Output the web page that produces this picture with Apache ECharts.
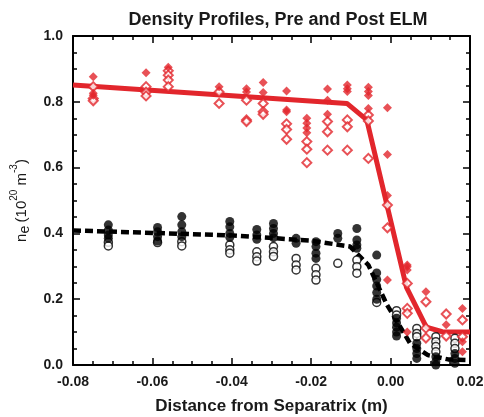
<!DOCTYPE html>
<html><head><meta charset="utf-8">
<script src="https://cdn.jsdelivr.net/npm/echarts@6/dist/echarts.min.js"></script>
<style>html,body{margin:0;padding:0;background:#fff}#c{width:484px;height:417px}</style>
</head><body><div id="c"></div>
<script>
// Pre-ELM fit (solid red) and post-ELM fit (dashed black)
var redFit = [[-0.08,0.851],[-0.011,0.795],[-0.006,0.745],[0.004,0.236],[0.009,0.115],[0.013,0.101],[0.02,0.100]];
var blackFit = [[-0.08,0.409],[-0.04,0.394],[-0.02,0.378],[-0.0102,0.36],[-0.0056,0.304],[-0.001,0.185],[0.0049,0.066],[0.0094,0.03],[0.0145,0.017],[0.02,0.015]];

var redFilled = [
 [-0.0749,0.876],[-0.0749,0.826],[-0.0749,0.82],
 [-0.0616,0.888],[-0.056,0.905],[-0.0432,0.846],
 [-0.0363,0.84],[-0.0363,0.83],
 [-0.0321,0.859],[-0.0321,0.828],
 [-0.0262,0.833],[-0.0262,0.775],[-0.0262,0.77],
 [-0.0211,0.75],[-0.0211,0.735],[-0.0211,0.72],[-0.0211,0.706],
 [-0.0159,0.839],[-0.0159,0.805],[-0.0159,0.762],
 [-0.0109,0.851],[-0.0109,0.84],[-0.0109,0.831],
 [-0.0056,0.844],[-0.0056,0.831],[-0.0056,0.819],[-0.0056,0.78],
 [-0.0008,0.782],[-0.0008,0.64],[-0.0008,0.515],[-0.0008,0.258],
 [0.0042,0.304],[0.0042,0.299],[0.0042,0.289],[0.0042,0.10],
 [0.0089,0.223],[0.0140,0.122],
 [0.0181,0.172],[0.0181,0.071],[0.0181,0.04]
];
var redOpen = [
 [-0.0749,0.846],[-0.0749,0.81],[-0.0749,0.803],
 [-0.0616,0.846],[-0.0616,0.829],[-0.0616,0.818],
 [-0.056,0.894],[-0.056,0.881],[-0.056,0.866],[-0.056,0.846],
 [-0.0432,0.83],[-0.0432,0.795],
 [-0.0363,0.805],[-0.0363,0.745],[-0.0363,0.74],
 [-0.0321,0.795],[-0.0321,0.77],[-0.0321,0.762],
 [-0.0262,0.733],[-0.0262,0.716],[-0.0262,0.686],
 [-0.0211,0.679],[-0.0211,0.656],[-0.0211,0.615],
 [-0.0159,0.74],[-0.0159,0.709],[-0.0159,0.653],
 [-0.0109,0.745],[-0.0109,0.724],[-0.0109,0.653],
 [-0.0056,0.76],[-0.0056,0.742],[-0.0056,0.628],
 [-0.0008,0.486],[-0.0008,0.417],
 [0.0042,0.248],[0.0042,0.172],[0.0042,0.157],
 [0.0089,0.192],[0.0089,0.112],[0.0089,0.082],
 [0.0140,0.155],[0.0140,0.088],
 [0.0181,0.137],[0.0181,0.086]
];
var blackFilled = [
 [-0.0711,0.426],[-0.0711,0.41],[-0.0711,0.395],[-0.0711,0.385],
 [-0.0587,0.418],[-0.0587,0.405],[-0.0587,0.39],[-0.0587,0.377],
 [-0.0526,0.451],[-0.0526,0.426],[-0.0526,0.405],[-0.0526,0.39],
 [-0.0405,0.436],[-0.0405,0.42],[-0.0405,0.40],[-0.0405,0.388],
 [-0.0337,0.412],[-0.0337,0.395],[-0.0337,0.382],
 [-0.0295,0.43],[-0.0295,0.415],[-0.0295,0.40],[-0.0295,0.387],
 [-0.0238,0.385],[-0.0238,0.37],
 [-0.0188,0.375],[-0.0188,0.36],[-0.0188,0.34],[-0.0188,0.324],
 [-0.0133,0.40],[-0.0133,0.385],
 [-0.0085,0.415],[-0.0085,0.38],[-0.0085,0.365],[-0.0085,0.355],
 [-0.0035,0.334],[-0.0035,0.28],[-0.0035,0.26],[-0.0035,0.24],[-0.0035,0.22],[-0.0035,0.20],
 [0.0015,0.142],[0.0015,0.128],[0.0015,0.115],[0.0015,0.10],[0.0015,0.088],
 [0.0066,0.066],[0.0066,0.05],[0.0066,0.035],[0.0066,0.02],
 [0.0114,0.025],[0.0114,0.01],[0.0114,0.0],
 [0.0162,0.035],[0.0162,0.02],[0.0162,0.005]
];
var blackOpen = [
 [-0.0711,0.373],[-0.0711,0.362],
 [-0.0587,0.372],
 [-0.0526,0.375],[-0.0526,0.362],
 [-0.0405,0.365],[-0.0405,0.35],[-0.0405,0.34],
 [-0.0337,0.344],[-0.0337,0.329],[-0.0337,0.316],
 [-0.0295,0.36],[-0.0295,0.344],[-0.0295,0.33],
 [-0.0238,0.324],[-0.0238,0.304],[-0.0238,0.289],
 [-0.0188,0.294],[-0.0188,0.274],[-0.0188,0.258],
 [-0.0133,0.309],
 [-0.0085,0.319],[-0.0085,0.299],[-0.0085,0.279],
 [-0.0035,0.19],
 [0.0015,0.165],[0.0015,0.152],
 [0.0066,0.111],[0.0066,0.096],[0.0066,0.086],
 [0.0114,0.086],[0.0114,0.071],[0.0114,0.056],[0.0114,0.04],
 [0.0162,0.081],[0.0162,0.066],[0.0162,0.05]
];

var RED = '#e2262c';
var TXT = '#1a1a1a';
var FONT = 'Liberation Sans, Arial, sans-serif';

function frameAxis(extra){
  var a = {
    axisLine:{show:true,onZero:false,lineStyle:{color:'#000',width:2}},
    axisTick:{show:true,inside:true,length:7,lineStyle:{color:'#000',width:1.5}},
    minorTick:{show:true,splitNumber:4,length:4,lineStyle:{color:'#000',width:1.5}},
    splitLine:{show:false}, minorSplitLine:{show:false}
  };
  for (var k in extra) a[k]=extra[k];
  return a;
}

var chart = echarts.init(document.getElementById('c'), null, {renderer:'canvas'});
chart.setOption({
  animation:false,
  backgroundColor:'#fff',
  title:{text:'Density Profiles, Pre and Post ELM',left:273,textAlign:'center',top:6,
    textStyle:{fontFamily:'Liberation Sans Narrow, Arial Narrow, sans-serif',fontWeight:'bold',fontSize:18,color:TXT}},
  grid:{left:73,right:14,top:36,bottom:52,containLabel:false,outerBoundsMode:'none'},
  xAxis:[
    frameAxis({type:'value',min:-0.08,max:0.02,interval:0.02,position:'bottom',
      name:'Distance from Separatrix (m)',nameLocation:'middle',nameGap:33,
      nameTextStyle:{fontFamily:FONT,fontWeight:'bold',fontSize:17,color:TXT},
      axisLabel:{show:true,margin:10,fontFamily:FONT,fontWeight:'bold',fontSize:14,color:TXT,
        formatter:function(v){return v.toFixed(2);}}}),
    frameAxis({type:'value',min:-0.08,max:0.02,interval:0.02,position:'top',axisLabel:{show:false}})
  ],
  yAxis:[
    frameAxis({type:'value',min:0,max:1,interval:0.2,position:'left',
      name:'{n|n}{e|e} {n|(10}{p|20}{n| m}{p|-3}{n|)}',nameLocation:'middle',nameGap:33,nameRotate:90,
      nameTextStyle:{rich:{
        n:{fontFamily:FONT,fontSize:15,color:TXT,lineHeight:20,verticalAlign:'bottom'},
        e:{fontFamily:FONT,fontSize:14,color:TXT,lineHeight:20,verticalAlign:'bottom',padding:[0,0,-3,0]},
        p:{fontFamily:FONT,fontSize:10,color:TXT,lineHeight:20,verticalAlign:'top'}
      }},
      axisLabel:{show:true,margin:10,fontFamily:FONT,fontWeight:'bold',fontSize:14,color:TXT,
        formatter:function(v){return v.toFixed(1);}}}),
    frameAxis({type:'value',min:0,max:1,interval:0.2,position:'right',axisLabel:{show:false}})
  ],
  series:[
    {type:'line',data:blackFit,symbol:'none',z:2,
      lineStyle:{color:'#000',width:4.5,type:[8,4]}},
    {type:'line',data:redFit,symbol:'none',z:2,
      lineStyle:{color:RED,width:5}},
    {type:'scatter',data:blackOpen,symbol:'circle',symbolSize:8,z:3,
      itemStyle:{color:'#fff',borderColor:'#000',borderWidth:1.5}},
    {type:'scatter',data:blackFilled,symbol:'circle',symbolSize:9,z:4,
      itemStyle:{color:'#000'}},
    {type:'scatter',data:redOpen,symbol:'diamond',symbolSize:9,z:5,
      itemStyle:{color:'#fff',borderColor:RED,borderWidth:2}},
    {type:'scatter',data:redFilled,symbol:'diamond',symbolSize:9,z:6,
      itemStyle:{color:RED}}
  ]
});
</script></body></html>
